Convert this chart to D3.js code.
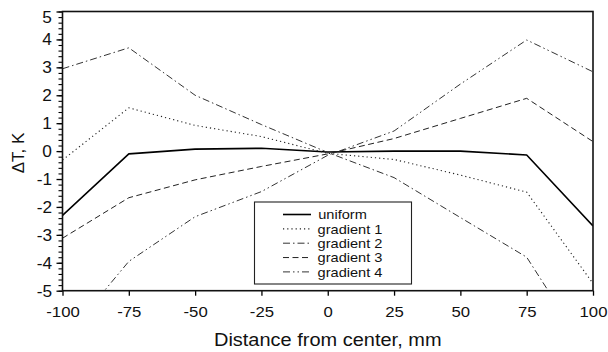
<!DOCTYPE html>
<html>
<head>
<meta charset="utf-8">
<script src="https://cdn.jsdelivr.net/npm/d3@7"></script>
<style>
  body { margin: 0; background: #fff; }
  svg text { font-family: "Liberation Sans", Arial, Helvetica, sans-serif; fill: #111; }
  .wide { transform-box: fill-box; transform-origin: center; transform: scaleX(1.08); }
</style>
</head>
<body>
<div id="chart"></div>
<script>
// data
var distance = [-100, -75, -50, -25, 0, 25, 50, 75, 100];
var uniform   = [-2.3, -0.1, 0.07, 0.1, -0.03, 0.0, 0.0, -0.14, -2.68];
var gradient1 = [-0.32, 1.55, 0.92, 0.52, -0.08, -0.3, -0.86, -1.47, -4.74];
var gradient2 = [2.95, 3.7, 2.0, 0.95, -0.05, -0.95, -2.38, -3.8, -7.5];
var gradient3 = [-3.12, -1.67, -1.03, -0.55, -0.1, 0.45, 1.17, 1.89, 0.34];
var gradient4 = [-6.8, -3.95, -2.35, -1.45, -0.15, 0.72, 2.4, 3.98, 2.84];
var seriesNames = ["uniform", "gradient 1", "gradient 2", "gradient 3", "gradient 4"];
var xTicks = [-100, -75, -50, -25, 0, 25, 50, 75, 100];
var yTicks = [-5, -4, -3, -2, -1, 0, 1, 2, 3, 4, 5];

var width = 608, height = 352;
var padding = { top: 11.5, right: 15, bottom: 61.3, left: 62.5 };

var svg = d3.select("#chart")
    .append("svg")
    .attr("width", width)
    .attr("height", height);

var xScale = d3.scaleLinear()
    .domain([-100, 100])
    .range([padding.left, width - padding.right]);

var yScale = d3.scaleLinear()
    .domain([-5, 5])
    .range([height - padding.bottom, padding.top]);

var styles = [
    { dash: null, color: "#000", w: 1.6 },
    { dash: "1.2,3", color: "#222", w: 1.1 },
    { dash: "7,3,1.5,3", color: "#333", w: 1 },
    { dash: "6,3.5", color: "#222", w: 1 },
    { dash: "7,3,1.5,3,1.5,3", color: "#333", w: 1 }
];
var allSeries = [uniform, gradient1, gradient2, gradient3, gradient4];

// clip
svg.append("clipPath").attr("id", "plot-clip")
    .append("rect")
    .attr("x", xScale(-100)).attr("y", yScale(5))
    .attr("width", xScale(100) - xScale(-100))
    .attr("height", yScale(-5) - yScale(5));

var line = d3.line()
    .x(function(d, i){ return xScale(distance[i]); })
    .y(function(d){ return yScale(d); });

var lines = svg.append("g").attr("clip-path", "url(#plot-clip)");
allSeries.forEach(function(s, i){
    lines.append("path")
        .attr("d", line(s))
        .attr("fill", "none")
        .attr("stroke", styles[i].color)
        .attr("stroke-width", styles[i].w)
        .attr("stroke-dasharray", styles[i].dash)
        .attr("stroke-linejoin", "round");
});

// x axis
var xAxis = d3.axisBottom(xScale)
    .tickValues(xTicks)
    .tickSize(5)
    .tickPadding(10.5)
    .tickFormat(function(d){ return String(d); });
var gx = svg.append("g")
    .attr("transform", "translate(0," + yScale(-5) + ")")
    .call(xAxis);
gx.select(".domain").remove();
gx.selectAll("line").attr("stroke", "#000").attr("stroke-width", 1.3);
gx.selectAll("text")
    .attr("font-size", 15.5)
    .attr("class", "wide");

// y axis, minor ticks first
var minor = d3.range(-5, 5.001, 0.2);
var gyMinor = svg.append("g")
    .attr("transform", "translate(" + xScale(-100) + ",0)")
    .call(d3.axisLeft(yScale).tickValues(minor).tickSize(4).tickFormat(""));
gyMinor.select(".domain").remove();
gyMinor.selectAll("line").attr("stroke", "#000").attr("stroke-width", 1.1);

var gy = svg.append("g")
    .attr("transform", "translate(" + xScale(-100) + ",0)")
    .call(d3.axisLeft(yScale).tickValues(yTicks).tickSize(6).tickPadding(5)
        .tickFormat(function(d){ return String(d); }));
gy.select(".domain").remove();
gy.selectAll("line").attr("stroke", "#000").attr("stroke-width", 1.3);
gy.selectAll("text")
    .attr("font-size", 16)
    .attr("class", "wide")
    .attr("dy", function(d){ return d === 5 ? "0.68em" : "0.34em"; });

// plot frame
svg.append("rect")
    .attr("x", xScale(-100)).attr("y", yScale(5))
    .attr("width", xScale(100) - xScale(-100))
    .attr("height", yScale(-5) - yScale(5))
    .attr("fill", "none")
    .attr("stroke", "#111")
    .attr("stroke-width", 1.6);

// axis titles
svg.append("text")
    .attr("class", "wide")
    .attr("x", (xScale(-100) + xScale(100)) / 2)
    .attr("y", 346)
    .attr("text-anchor", "middle")
    .attr("font-size", 18.5)
    .text("Distance from center, mm");

svg.append("text")
    .attr("transform", "translate(23.5,153) rotate(-90)")
    .attr("text-anchor", "middle")
    .attr("font-size", 17)
    .text("ΔT, K");

// legend
var legend = svg.append("g");
legend.append("rect")
    .attr("x", 254.5).attr("y", 202)
    .attr("width", 157).attr("height", 82)
    .attr("fill", "#fff")
    .attr("stroke", "#222")
    .attr("stroke-width", 1.1);

seriesNames.forEach(function(name, i){
    var yy = 214.5 + i * 14.35;
    legend.append("line")
        .attr("x1", 283).attr("x2", 311)
        .attr("y1", yy).attr("y2", yy)
        .attr("stroke", styles[i].color)
        .attr("stroke-width", styles[i].w)
        .attr("stroke-dasharray", styles[i].dash);
    legend.append("text")
        .attr("x", 320)
        .attr("y", yy)
        .attr("dy", "0.36em")
        .attr("font-size", 13.5)
        .attr("class", "wide")
        .text(name);
});
</script>
</body>
</html>
